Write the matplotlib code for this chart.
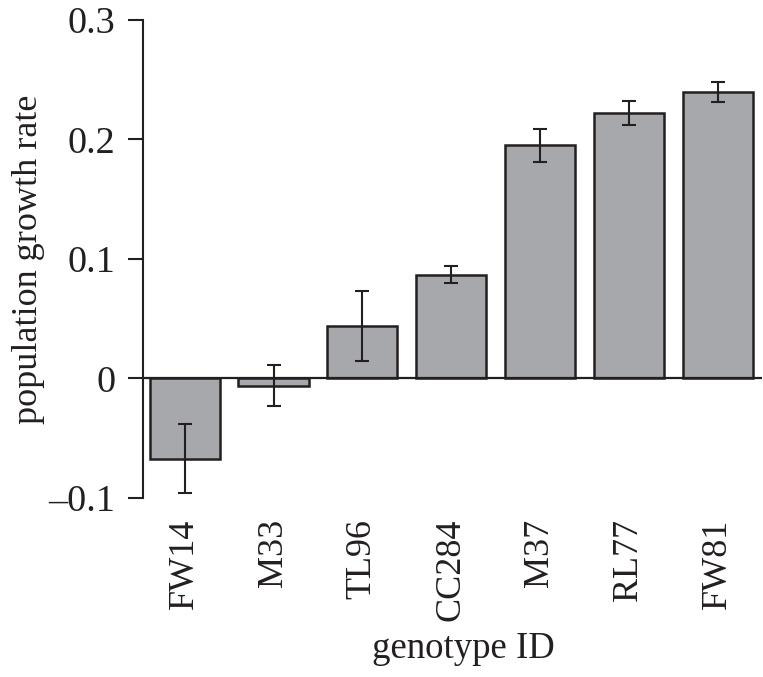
"""Bar chart of population growth rate per genotype, with error bars."""
import matplotlib

matplotlib.use("Agg")
import matplotlib.pyplot as plt
from matplotlib.ticker import FixedLocator, FuncFormatter

genotypes = ["FW14", "M33", "TL96", "CC284", "M37", "RL77", "FW81"]
growth_rate = [-0.067, -0.006, 0.044, 0.087, 0.195, 0.222, 0.240]
growth_err = [0.029, 0.017, 0.029, 0.007, 0.014, 0.010, 0.0085]
y_ticks = [-0.1, 0, 0.1, 0.2, 0.3]

INK = "#231f20"
plt.rcParams["font.family"] = ["Liberation Serif", "DejaVu Serif"]

fig = plt.figure(figsize=(7.63, 6.77), dpi=100)
ax = fig.add_axes([0.1874, 0.2644, 0.8113, 0.7061])

x = list(range(len(genotypes)))
ax.bar(x, growth_rate, width=0.79, color="#a7a8ab", edgecolor=INK, linewidth=1.8, zorder=2)
ax.errorbar(x, growth_rate, yerr=growth_err, fmt="none", ecolor=INK,
            elinewidth=1.5, capsize=4.7, capthick=1.5, zorder=3)
ax.axhline(0, color=INK, linewidth=1.6, zorder=4)

ax.set_xlim(-0.47, 6.5)
ax.set_ylim(-0.1, 0.3)
ax.yaxis.set_major_locator(FixedLocator(y_ticks))


def _fmt(v, _pos):
    if abs(v) < 1e-9:
        return "0"
    s = f"{abs(v):.1f}"
    return ("\u2013" + s) if v < 0 else s


ax.yaxis.set_major_formatter(FuncFormatter(_fmt))
ax.set_xticks(x)
ax.set_xticklabels(genotypes, rotation=90, fontsize=26)

for side in ("top", "right", "bottom"):
    ax.spines[side].set_visible(False)
ax.spines["left"].set_color(INK)
ax.spines["left"].set_linewidth(1.5)

ax.tick_params(axis="y", direction="out", length=11, width=1.5, color=INK,
               labelsize=27.5, pad=9, labelcolor=INK)
ax.tick_params(axis="x", length=0, pad=15, labelcolor=INK)

ax.set_ylabel("population growth rate", fontsize=26, color=INK)
ax.yaxis.set_label_coords(-0.158, 0.5)
ax.set_xlabel("genotype ID", fontsize=26.5, color=INK)
ax.xaxis.set_label_coords(0.517, -0.28)

fig.savefig("out.png", dpi=100)
